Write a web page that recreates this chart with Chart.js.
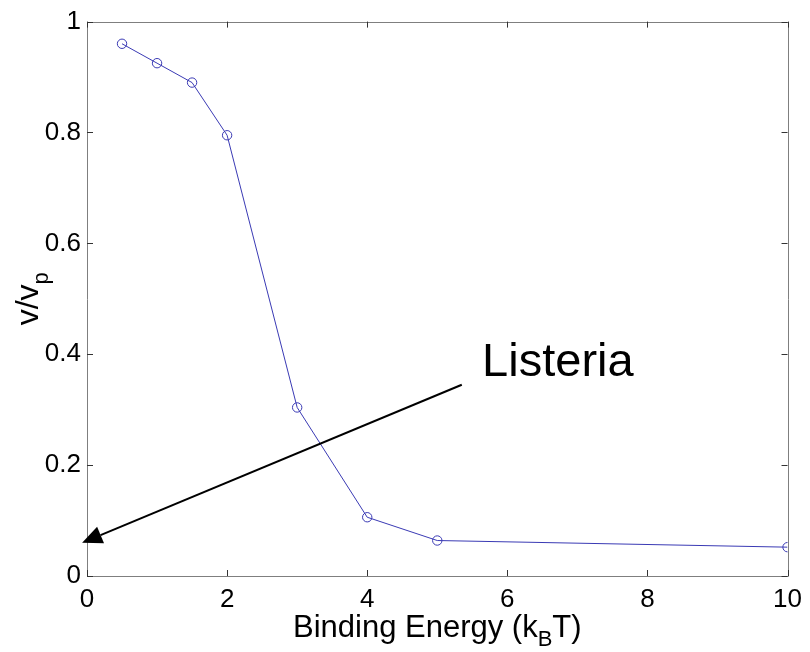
<!DOCTYPE html>
<html>
<head>
<meta charset="utf-8">
<script src="https://cdn.jsdelivr.net/npm/chart.js@4"></script>
<style>
  html, body { margin: 0; padding: 0; background: #fff; }
  #wrap { width: 810px; height: 652px; }
</style>
</head>
<body>
<div id="wrap"><canvas id="bindingChart" width="810" height="652"></canvas></div>
<script>
// dados
const bindingEnergy = [0.5, 1, 1.5, 2, 3, 4, 5, 10];
const speedRatio = [0.96, 0.925, 0.89, 0.795, 0.304, 0.106, 0.064, 0.052];
const xTickValues = [0, 2, 4, 6, 8, 10];
const yTickValues = [0, 0.2, 0.4, 0.6, 0.8, 1];

// anotacao "Listeria" (em unidades dos eixos)
const arrowStart = [5.35, 0.345];
const arrowEnd = [-0.07, 0.06];
const labelPos = [5.64, 0.36];
const labelText = "Listeria";

const fontFamily = "'Liberation Sans', Arial, Helvetica, sans-serif";
const axisGray = "#7f7f7f";
const lineBlue = "#3a3ab4";

// caixa dos eixos com marcas para dentro (estilo matlab)
const boxPlugin = {
    id: "boxPlugin",
    afterDraw(chart) {
        const ctx = chart.ctx;
        const area = chart.chartArea;
        const xs = chart.scales.x;
        const ys = chart.scales.y;
        const tick = 6;
        ctx.save();
        ctx.strokeStyle = axisGray;
        ctx.lineWidth = 1;
        ctx.beginPath();
        ctx.rect(Math.round(area.left) + 0.5, Math.round(area.top) + 0.5,
                 Math.round(area.right - area.left), Math.round(area.bottom - area.top));
        ctx.stroke();
        ctx.strokeStyle = "#333";
        ctx.beginPath();
        xTickValues.forEach(function(v) {
            const px = Math.round(xs.getPixelForValue(v)) + 0.5;
            ctx.moveTo(px, area.bottom); ctx.lineTo(px, area.bottom - tick);
            ctx.moveTo(px, area.top); ctx.lineTo(px, area.top + tick);
        });
        yTickValues.forEach(function(v) {
            const py = Math.round(ys.getPixelForValue(v)) + 0.5;
            ctx.moveTo(area.left, py); ctx.lineTo(area.left + tick, py);
            ctx.moveTo(area.right, py); ctx.lineTo(area.right - tick, py);
        });
        ctx.stroke();

        // seta e texto
        const x1 = xs.getPixelForValue(arrowStart[0]);
        const y1 = ys.getPixelForValue(arrowStart[1]);
        const x2 = xs.getPixelForValue(arrowEnd[0]);
        const y2 = ys.getPixelForValue(arrowEnd[1]);
        const ang = Math.atan2(y2 - y1, x2 - x1);
        const headLen = 20, headHalf = 9;
        const bx = x2 - headLen * Math.cos(ang);
        const by = y2 - headLen * Math.sin(ang);
        ctx.strokeStyle = "#000";
        ctx.fillStyle = "#000";
        ctx.lineWidth = 2;
        ctx.beginPath();
        ctx.moveTo(x1, y1);
        ctx.lineTo(bx, by);
        ctx.stroke();
        ctx.beginPath();
        ctx.moveTo(x2, y2);
        ctx.lineTo(bx + headHalf * Math.sin(ang), by - headHalf * Math.cos(ang));
        ctx.lineTo(bx - headHalf * Math.sin(ang), by + headHalf * Math.cos(ang));
        ctx.closePath();
        ctx.fill();

        ctx.font = "47px " + fontFamily;
        ctx.textBaseline = "alphabetic";
        ctx.textAlign = "left";
        ctx.fillText(labelText, xs.getPixelForValue(labelPos[0]), ys.getPixelForValue(labelPos[1]));

        // titulos dos eixos com subscrito
        drawSubTitle(ctx, ["Binding Energy (k", "B", "T)"], (area.left + area.right) / 2, 637, 31);
        ctx.save();
        ctx.translate(38, (area.top + area.bottom) / 2);
        ctx.rotate(-Math.PI / 2);
        drawSubTitle(ctx, ["v/v", "p", ""], 0, 0, 32);
        ctx.restore();
        ctx.restore();
    }
};

// desenha texto com um trecho subscrito, centralizado em cx
function drawSubTitle(ctx, parts, cx, baseY, size) {
    const subSize = Math.round(size * 0.7);
    const mainFont = size + "px " + fontFamily;
    const subFont = subSize + "px " + fontFamily;
    ctx.font = mainFont;
    const w0 = ctx.measureText(parts[0]).width;
    const w2 = ctx.measureText(parts[2]).width;
    ctx.font = subFont;
    const w1 = ctx.measureText(parts[1]).width;
    let x = cx - (w0 + w1 + w2) / 2;
    ctx.fillStyle = "#000";
    ctx.textAlign = "left";
    ctx.textBaseline = "alphabetic";
    ctx.font = mainFont;
    ctx.fillText(parts[0], x, baseY);
    x += w0;
    ctx.font = subFont;
    ctx.fillText(parts[1], x, baseY + size * 0.3);
    x += w1;
    ctx.font = mainFont;
    ctx.fillText(parts[2], x, baseY);
}

const ctxChart = document.getElementById("bindingChart");
const chart = new Chart(ctxChart, {
    type: "scatter",
    data: {
        datasets: [{
            label: "v/vp",
            data: bindingEnergy.map(function(e, i) { return { x: e, y: speedRatio[i] }; }),
            showLine: true,
            borderColor: lineBlue,
            borderWidth: 1,
            pointStyle: "circle",
            pointRadius: 4.7,
            pointBorderWidth: 1,
            pointBorderColor: lineBlue,
            pointBackgroundColor: "rgba(0,0,0,0)",
            tension: 0
        }]
    },
    options: {
        responsive: false,
        animation: false,
        devicePixelRatio: 1,
        layout: { padding: { left: 0, right: 17, top: 18, bottom: 0 } },
        plugins: {
            legend: { display: false },
            tooltip: { enabled: false }
        },
        scales: {
            x: {
                type: "linear",
                min: 0,
                max: 10,
                afterBuildTicks: function(scale) {
                    scale.ticks = xTickValues.map(function(v) { return { value: v }; });
                },
                afterFit: function(scale) { scale.height = 76; },
                grid: { display: false, drawTicks: false },
                border: { display: false },
                ticks: {
                    color: "#000",
                    padding: 8,
                    maxRotation: 0,
                    font: { family: fontFamily, size: 26 },
                    callback: function(v) { return String(v); }
                }
            },
            y: {
                type: "linear",
                min: 0,
                max: 1,
                afterBuildTicks: function(scale) {
                    scale.ticks = yTickValues.map(function(v) { return { value: v }; });
                },
                afterFit: function(scale) { scale.width = 87; },
                grid: { display: false, drawTicks: false },
                border: { display: false },
                ticks: {
                    color: "#000",
                    padding: 6,
                    font: { family: fontFamily, size: 26 },
                    callback: function(v) { return String(+v.toFixed(1)); }
                }
            }
        }
    },
    plugins: [boxPlugin]
});
</script>
</body>
</html>
